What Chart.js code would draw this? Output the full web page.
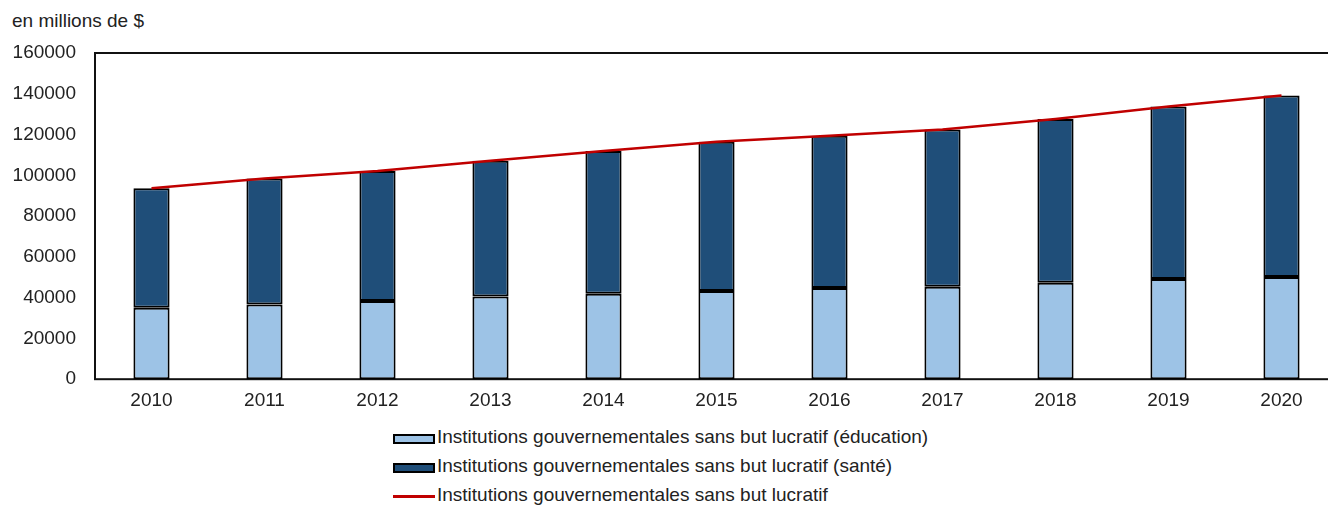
<!DOCTYPE html>
<html>
<head>
<meta charset="utf-8">
<script src="https://cdn.jsdelivr.net/npm/chart.js@4"></script>
<style>
  body { margin: 0; width: 1328px; height: 507px; overflow: hidden; background: #fff; position: relative;
         font-family: "Liberation Sans", Arial, sans-serif; color: #222; }
  #unit { position: absolute; left: 12px; top: 10px; font-size: 19px; line-height: 22.8px; }
  #wrap { position: absolute; left: 0; top: 0; }
  #legend { position: absolute; left: 393px; top: 424px; font-size: 19px; }
  .row { display: flex; align-items: center; height: 29px; }
  .sw { width: 42px; height: 10px; box-sizing: border-box; border: 2px solid #000; margin-right: 2px; }
  .ln { width: 42px; height: 2.5px; margin-right: 2px; }
  .row span { position: relative; top: -2px; white-space: nowrap; }
</style>
</head>
<body>
<div id="unit">en millions de $</div>
<div id="wrap"><canvas id="myChart" width="1340" height="422"></canvas></div>
<div id="legend"></div>
<script>
const years = ['2010','2011','2012','2013','2014','2015','2016','2017','2018','2019','2020'];
const education = [35100, 36700, 38400, 40600, 41900, 43300, 44700, 45300, 47300, 49200, 50100];
const sante = [58600, 61800, 63700, 66500, 70000, 73200, 74700, 77200, 80300, 84600, 89100];
const total = [93700, 98500, 102100, 107100, 111900, 116500, 119400, 122500, 127600, 133800, 139200];

const labelEdu = 'Institutions gouvernementales sans but lucratif (éducation)';
const labelSante = 'Institutions gouvernementales sans but lucratif (santé)';
const labelTotal = 'Institutions gouvernementales sans but lucratif';

const ctx = document.getElementById('myChart');

// frame around the plot (top + left + bottom, right edge is off screen)
const frame = {
    id: 'frame',
    beforeDatasetsDraw(chart) {
        const a = chart.chartArea;
        const c = chart.ctx;
        c.save();
        c.strokeStyle = '#111';
        c.lineWidth = 2;
        c.strokeRect(a.left, a.top, a.right - a.left, a.bottom - a.top);
        c.restore();
    }
};

new Chart(ctx, {
    type: 'bar',
    data: {
        labels: years,
        datasets: [{
            type: 'line',
            label: labelTotal,
            data: total,
            borderColor: '#C00000',
            borderWidth: 2.5,
            pointRadius: 0,
            tension: 0,
            stack: 'line',
            order: 0
        }, {
            label: labelEdu,
            data: education,
            backgroundColor: '#9DC3E6',
            borderColor: '#000',
            borderWidth: 2,
            borderSkipped: false,
            stack: 'bars',
            order: 1
        }, {
            label: labelSante,
            data: sante,
            backgroundColor: '#1F4E79',
            borderColor: '#000',
            borderWidth: 2,
            borderSkipped: false,
            stack: 'bars',
            order: 1
        }]
    },
    options: {
        responsive: false,
        animation: false,
        layout: { padding: { top: 53, right: 2, left: 0, bottom: 0 } },
        datasets: { bar: { categoryPercentage: 1, barPercentage: 0.32 } },
        scales: {
            x: {
                stacked: true,
                grid: { display: false, drawTicks: false },
                border: { display: false },
                ticks: { padding: 10, color: '#222', font: { family: 'Liberation Sans', size: 19 } }
            },
            y: {
                stacked: true,
                min: 0,
                max: 160000,
                grid: { display: false, drawTicks: false },
                border: { display: false },
                ticks: {
                    stepSize: 20000,
                    padding: 19,
                    color: '#222',
                    font: { family: 'Liberation Sans', size: 19 },
                    callback: v => String(v)
                },
                afterFit: s => { s.width = 95; }
            }
        },
        plugins: {
            legend: { display: false },
            tooltip: { enabled: false }
        }
    },
    plugins: [frame]
});

// legend, one item per line
const legend = document.getElementById('legend');
[[labelEdu, 'sw', '#9DC3E6'], [labelSante, 'sw', '#1F4E79'], [labelTotal, 'ln', '#C00000']].forEach(([txt, cls, col]) => {
    const row = document.createElement('div');
    row.className = 'row';
    const mark = document.createElement('div');
    mark.className = cls;
    mark.style.background = col;
    const span = document.createElement('span');
    span.textContent = txt;
    row.appendChild(mark);
    row.appendChild(span);
    legend.appendChild(row);
});
</script>
</body>
</html>
